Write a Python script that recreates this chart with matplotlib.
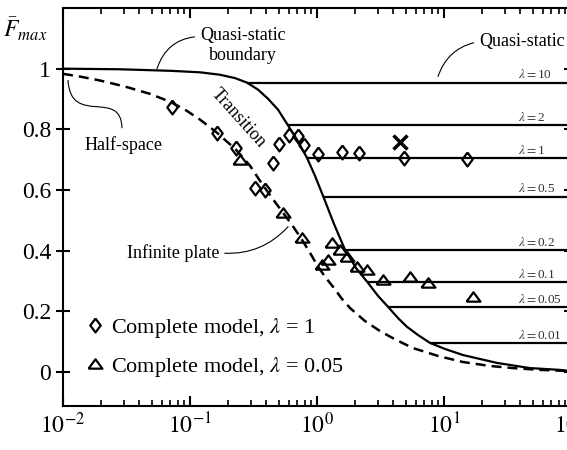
import numpy as np
import matplotlib
matplotlib.use('Agg')
import matplotlib.pyplot as plt
from matplotlib.path import Path
from matplotlib.patches import PathPatch
from matplotlib.ticker import LogLocator, NullFormatter

# quasi-static boundary (solid)
qs_x = [0.01, 0.0281, 0.0696, 0.120, 0.172, 0.226, 0.281, 0.343, 0.411, 0.493, 0.581, 0.696,
        0.834, 0.964, 1.115, 1.361, 1.662, 2.028, 2.521, 3.022, 3.623, 4.343, 5.113, 6.243,
        7.758, 10.18, 14.11, 19.21, 26.15, 47.56, 81.9, 100]
qs_y = [1.0, 0.998, 0.993, 0.988, 0.980, 0.969, 0.954, 0.931, 0.901, 0.865, 0.818, 0.766,
        0.706, 0.647, 0.581, 0.488, 0.403, 0.343, 0.294, 0.251, 0.215, 0.178, 0.149, 0.122,
        0.096, 0.076, 0.056, 0.043, 0.030, 0.013, 0.007, 0.003]

# infinite plate (dashed)
plate_x = [0.01, 0.0136, 0.01956, 0.0308, 0.0484, 0.0696, 0.0913, 0.120, 0.163, 0.230, 0.297,
           0.356, 0.442, 0.540, 0.636, 0.762, 0.881, 1.0, 1.156, 1.337, 1.573, 1.819, 2.388,
           3.134, 4.188, 5.70, 8.97, 14.11, 23.0, 34.9, 57.0, 100]
plate_y = [0.983, 0.974, 0.961, 0.941, 0.917, 0.891, 0.865, 0.832, 0.789, 0.733, 0.680,
           0.630, 0.574, 0.525, 0.485, 0.436, 0.393, 0.353, 0.314, 0.281, 0.241, 0.211, 0.168,
           0.135, 0.106, 0.079, 0.053, 0.033, 0.020, 0.013, 0.007, 0.003]

# quasi-static levels for each lambda
lam_levels = [0.954, 0.815, 0.706, 0.578, 0.403, 0.297, 0.215, 0.096]
lam_labels = ['10', '2', '1', '0.5', '0.2', '0.1', '0.05', '0.01']

# complete model, lambda = 1
dia_x = [0.072, 0.162, 0.230, 0.325, 0.39, 0.451, 0.502, 0.603, 0.708, 0.79, 1.02, 1.57, 2.14, 4.84, 15.2]
dia_y = [0.875, 0.789, 0.739, 0.607, 0.600, 0.690, 0.752, 0.782, 0.779, 0.749, 0.720, 0.726, 0.723, 0.706, 0.703]

# complete model, lambda = 0.05
tri_x = [0.248, 0.54, 0.76, 1.09, 1.22, 1.31, 1.52, 1.72, 2.07, 2.48, 3.31, 5.4, 7.48, 16.9]
tri_y = [0.700, 0.525, 0.442, 0.353, 0.370, 0.426, 0.403, 0.380, 0.347, 0.337, 0.304, 0.314, 0.294, 0.248]

cross_x = [4.51]
cross_y = [0.759]

xtick_vals = [0.01, 0.1, 1, 10, 100]
xtick_labels = [r'$10^{-2}$', r'$10^{-1}$', r'$10^{0}$', r'$10^{1}$', r'$10^{2}$']
ytick_vals = [0, 0.2, 0.4, 0.6, 0.8, 1.0]
ytick_labels = ['0', '0.2', '0.4', '0.6', '0.8', '1']

plt.rcParams['font.family'] = 'Liberation Serif'
plt.rcParams['mathtext.fontset'] = 'stix'

# wider/flatter markers than the builtin ones
diamond = [(0, 1), (0.75, 0), (0, -1), (-0.75, 0), (0, 1)]
triangle = [(-1, -0.6), (1, -0.6), (0, 0.75), (-1, -0.6)]

fig = plt.figure(figsize=(5.67, 4.5), dpi=100)
ax = fig.add_axes([63/567, 44/450, 508/567, 398/450])

ax.plot(qs_x, qs_y, color='k', lw=1.6)
ax.plot(plate_x, plate_y, color='k', lw=1.8, ls=(0, (4, 2.4)))

# horizontal quasi-static lines start on the boundary curve
log_qs = np.log10(qs_x)
for lev, lab in zip(lam_levels, lam_labels):
    x0 = 10 ** np.interp(lev, qs_y[::-1], log_qs[::-1])
    ax.hlines(lev, x0, 100, color='k', lw=1.6)
    ax.text(38, lev + 0.004, r'$\lambda = $' + lab, fontsize=9.5, ha='left', va='bottom',
            color='#333333')

ax.plot(dia_x, dia_y, ls='none', marker=diamond, ms=10, mfc='none', mec='k', mew=1.6,
        label=r'Complete model, $\lambda$ = 1')
ax.plot(tri_x, tri_y, ls='none', marker=triangle, ms=10, mfc='none', mec='k', mew=1.6,
        label=r'Complete model, $\lambda$ = 0.05')
ax.plot(cross_x, cross_y, ls='none', marker='x', ms=10, mec='k', mew=2.5)

ax.set_xscale('log')
ax.set_xlim(0.01, 100)
ax.set_ylim(-0.112, 1.2)
ax.set_xticks(xtick_vals, xtick_labels)
ax.set_yticks(ytick_vals, ytick_labels)
ax.xaxis.set_minor_locator(LogLocator(base=10, subs=np.arange(2, 10)))
ax.xaxis.set_minor_formatter(NullFormatter())
ax.tick_params(axis='x', which='major', direction='in', length=7, width=1.5, top=True,
               labelsize=17, pad=5)
ax.tick_params(axis='x', which='minor', direction='in', length=4, width=1.2, top=True)
ax.tick_params(axis='y', direction='inout', length=10, width=1.5, right=True, labelsize=17)
for s in ax.spines.values():
    s.set_linewidth(1.5)

ax.text(-0.075, 0.945, r'$\bar{F}_{max}$', transform=ax.transAxes, fontsize=17,
        ha='center', va='center')

arc = dict(arrowstyle='-', lw=0.8, color='k', shrinkA=2, shrinkB=0)
ax.annotate('Quasi-static\nboundary', xy=(0.055, 1.0), xytext=(0.261, 1.076),
            ha='center', va='center', fontsize=13,
            arrowprops=dict(arc, connectionstyle='arc3,rad=0.35', relpos=(0, 0.75)))
ax.annotate('Quasi-static', xy=(8.97, 0.974), xytext=(18.9, 1.089),
            ha='left', va='center', fontsize=13,
            arrowprops=dict(arc, connectionstyle='arc3,rad=0.3', relpos=(0, 0.5)))
ax.annotate('Infinite plate', xy=(0.592, 0.479), xytext=(0.0734, 0.393),
            ha='center', va='center', fontsize=13,
            arrowprops=dict(arc, connectionstyle='arc3,rad=0.25', relpos=(1, 0.5)))
ax.text(0.239, 0.838, 'Transition', rotation=-48, ha='center', va='center', fontsize=13,
        rotation_mode='anchor')
ax.text(0.0302, 0.749, 'Half-space', ha='center', va='center', fontsize=13)

# S-shaped leader for half-space
verts = [(0.0098, 0.819), (0.015, 0.70), (0.115, 0.80), (0.116, 0.698)]
codes = [Path.MOVETO, Path.CURVE4, Path.CURVE4, Path.CURVE4]
ax.add_patch(PathPatch(Path(verts, codes), transform=ax.transAxes, fc='none', ec='k', lw=0.8))

ax.legend(loc='center left', bbox_to_anchor=(0.046, 0.148), frameon=False, fontsize=16,
          handlelength=0.8, handletextpad=0.3, labelspacing=0.67, borderpad=0,
          borderaxespad=0)

fig.savefig('out.png', dpi=100)
